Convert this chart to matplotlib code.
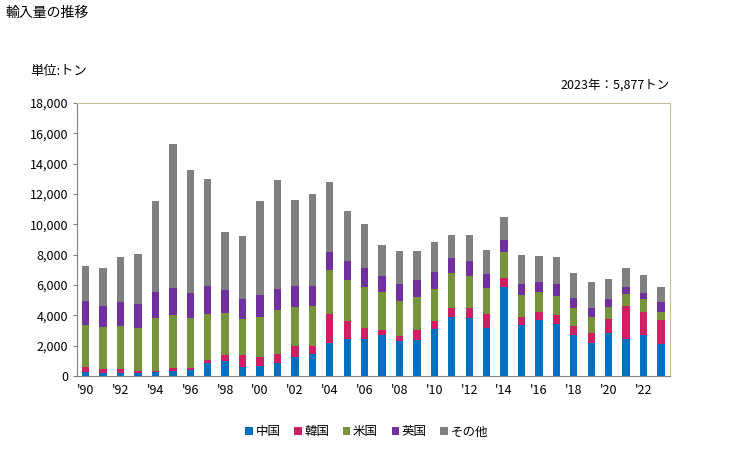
import numpy as np
import matplotlib.pyplot as plt

plt.rcParams['font.family'] = ['Noto Sans CJK JP', 'DejaVu Sans']

years = list(range(1990, 2024))
china = [286, 198, 198, 198, 286, 330, 418, 858, 990, 594,
         682, 858, 1254, 1452, 2178, 2442, 2442, 2706, 2310, 2376,
         3102, 3894, 3828, 3168, 5874, 3366, 3718, 3432, 2706, 2178,
         2838, 2442, 2706, 2112]
korea = [308, 264, 264, 132, 44, 220, 132, 198, 396, 792,
         572, 594, 726, 528, 1914, 1188, 726, 330, 330, 660,
         528, 594, 660, 924, 594, 528, 506, 594, 594, 660,
         924, 2178, 1518, 1584]
usa = [2772, 2772, 2838, 2838, 3498, 3476, 3278, 3036, 2772, 2376,
       2640, 2904, 2574, 2640, 2904, 2706, 2706, 2508, 2310, 2178,
       2112, 2310, 2112, 1716, 1716, 1452, 1320, 1254, 1188, 1056,
       792, 792, 858, 528]
uk = [1584, 1386, 1584, 1584, 1716, 1782, 1650, 1848, 1518, 1320,
      1452, 1386, 1386, 1320, 1188, 1254, 1254, 1056, 1122, 1122,
      1122, 990, 990, 924, 792, 726, 660, 792, 660, 594,
      528, 462, 396, 660]
other = [2310, 2508, 2970, 3300, 6006, 9504, 8118, 7062, 3828, 4158,
         6204, 7194, 5676, 6072, 4620, 3300, 2904, 2046, 2178, 1914,
         1980, 1518, 1716, 1584, 1518, 1914, 1716, 1782, 1650, 1716,
         1320, 1254, 1188, 993]

series = [('中国', china, '#0070c0'),
          ('韓国', korea, '#d01f63'),
          ('米国', usa, '#77933c'),
          ('英国', uk, '#7030a0'),
          ('その他', other, '#808080')]

fig = plt.figure(figsize=(7.29, 4.5), dpi=100)
ax = fig.add_axes([0.1056, 0.1644, 0.813, 0.6066])

x = np.arange(len(years))
bottom = np.zeros(len(years))
for name, vals, col in series:
    ax.bar(x, vals, width=0.42, bottom=bottom, color=col, label=name)
    bottom += np.array(vals)

ax.set_xlim(-0.5, len(years) - 0.5)
ax.set_ylim(0, 18000)
ax.set_yticks(range(0, 18001, 2000))
ax.set_yticklabels([f'{v:,}' for v in range(0, 18001, 2000)], fontsize=9)
ax.set_xticks(x[::2])
ax.set_xticklabels([f"'{y % 100:02d}" for y in years[::2]], fontsize=9)
ax.tick_params(axis='x', length=0, pad=6)
ax.tick_params(axis='y', length=3, color='#808080')

for s in ['left', 'bottom']:
    ax.spines[s].set_color('#808080')
for s in ['top', 'right']:
    ax.spines[s].set_color('#c4bd97')

fig.text(0.007, 0.972, '輸入量の推移', fontsize=10, va='center')
fig.text(0.041, 0.84, '単位:トン', fontsize=9.5, va='center')
fig.text(0.919, 0.81, '2023年：5,877トン', fontsize=9, va='center', ha='right')

fig.legend(loc='center', bbox_to_anchor=(0.503, 0.04), ncol=5, frameon=False,
           fontsize=9, handlelength=0.6, handleheight=0.6, handletextpad=0.2,
           columnspacing=1.1)

fig.savefig('out.png', dpi=100)
